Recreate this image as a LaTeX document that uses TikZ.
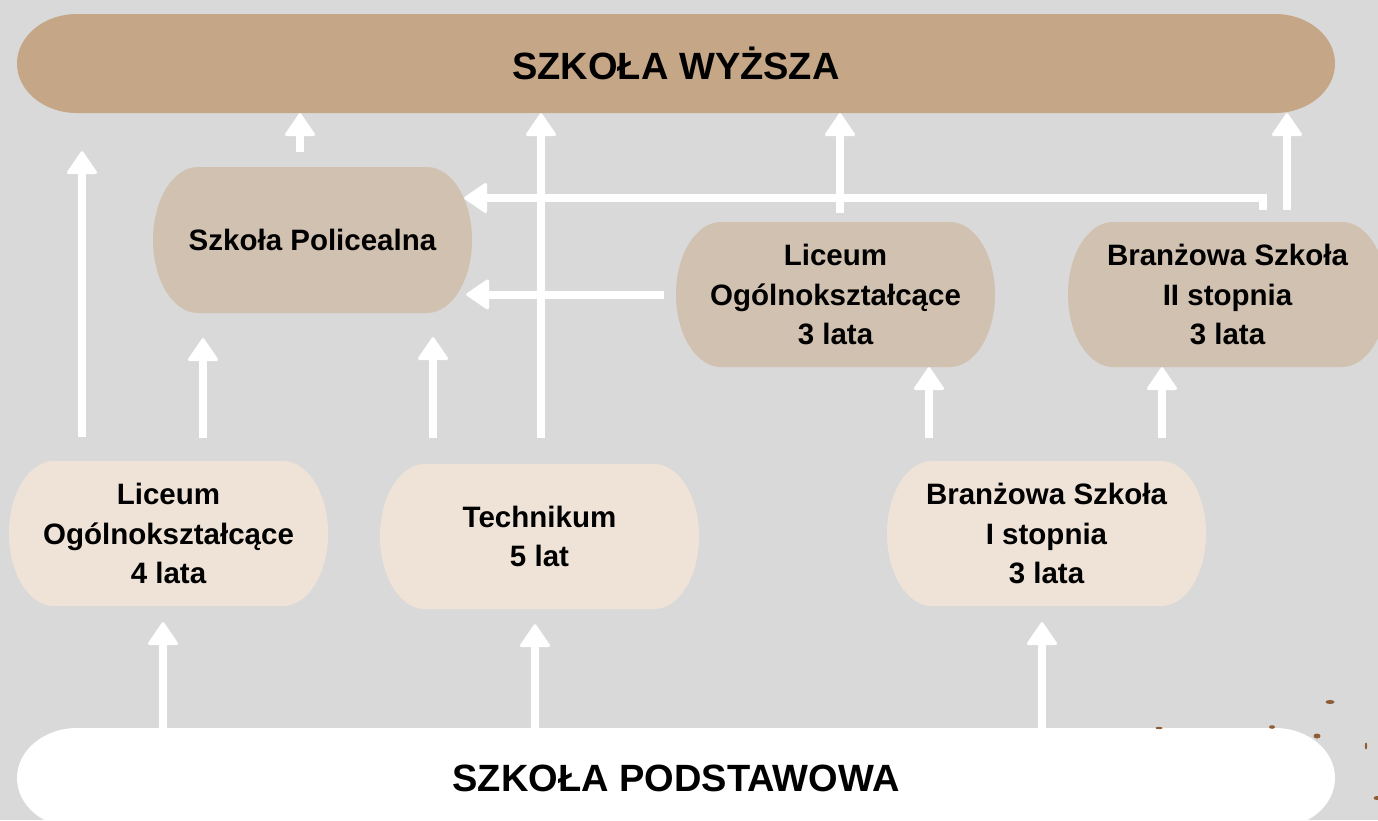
\documentclass[tikz,border=0pt]{standalone}
\usepackage{fontspec}
\setmainfont{Liberation Sans}
\usetikzlibrary{calc, arrows.meta}
\definecolor{bgc}{HTML}{D9D9D9}
\definecolor{topc}{HTML}{C5A686}
\definecolor{midc}{HTML}{D1C1B0}
\definecolor{lowc}{HTML}{EFE3D8}
\definecolor{dotc}{HTML}{8E5D35}
\tikzset{
  pill/.style 2 args={rectangle, inner sep=0pt, align=center,
    path picture={
      \fill[#1] let \p1=(path picture bounding box.north west),
        \p2=(path picture bounding box.south east), \n1={abs(\y2-\y1)/2} in
        ([xshift=#2]path picture bounding box.north west)
        -- ([xshift=-#2]path picture bounding box.north east)
        arc[start angle=90, end angle=-90, x radius=#2, y radius=\n1]
        -- ([xshift=#2]path picture bounding box.south west)
        arc[start angle=270, end angle=90, x radius=#2, y radius=\n1] -- cycle;
    }},
  wide/.style={pill={#1}{60pt}, minimum width=1318pt, minimum height=99pt,
    font=\fontsize{38}{42}\selectfont\bfseries},
  school/.style={pill={#1}{45pt}, minimum width=319pt, minimum height=145pt,
    font=\fontsize{29.5}{39.5}\selectfont\bfseries},
  arr/.style={draw=white, line width=8pt,
    -{Triangle[width=32pt, length=24pt, round, line width=3pt]}}
}

\begin{document}
\begin{tikzpicture}[x=1pt, y=-1pt]
      \fill[bgc] (0,0) rectangle (1378,820);
      \clip (0,0) rectangle (1378,820);
      % levels
      \node [wide=topc] (top) at (676,63.5) {SZKOŁA WYŻSZA};
      \node [wide=white, minimum height=100pt] (pod) at (676,778) {SZKOŁA PODSTAWOWA};
      \node [school=midc, minimum height=146pt] (pol) at (312.5,240) {Szkoła Policealna};
      \node [school=midc] (lic3) at (835.5,294.5) {Liceum\\Ogólnokształcące\\3 lata};
      \node [school=midc] (br2) at (1227.5,294.5) {Branżowa Szkoła\\II stopnia\\3 lata};
      \node [school=lowc] (lic4) at (168.5,533.5) {Liceum\\Ogólnokształcące\\4 lata};
      \node [school=lowc] (tech) at (539.5,536.5) {Technikum\\5 lat};
      \node [school=lowc] (br1) at (1046.5,533.5) {Branżowa Szkoła\\I stopnia\\3 lata};
      % from the primary school
      \draw[arr, shorten >=16pt] (pod.north -| 163,0) -- (lic4.south -| 163,0);
      \draw[arr, shorten >=15pt] (pod.north -| 535,0) -- (tech.south -| 535,0);
      \draw[arr, shorten >=16pt] (pod.north -| 1042,0) -- (br1.south -| 1042,0);
      % from the lower row
      \draw[arr, shorten <=24pt, shorten >=38pt] (lic4.north -| 82,0) -- (top.south -| 82,0);
      \draw[arr, shorten <=23pt, shorten >=25pt] (lic4.north -| 203,0) -- (pol.south -| 203,0);
      \draw[arr, shorten <=26pt, shorten >=24pt] (tech.north -| 433,0) -- (pol.south -| 433,0);
      \draw[arr, shorten <=26pt] (tech.north -| 541,0) -- (top.south -| 541,0);
      \draw[arr, shorten <=23pt] (br1.north -| 929,0) -- (lic3.south -| 929,0);
      \draw[arr, shorten <=23pt] (br1.north -| 1162,0) -- (br2.south -| 1162,0);
      % from the middle row
      \draw[arr, shorten <=15pt] (pol.north -| 300,0) -- (top.south -| 300,0);
      \draw[arr, shorten <=9pt] (lic3.north -| 840,0) -- (top.south -| 840,0);
      \draw[arr, shorten <=12pt] (br2.north -| 1287,0) -- (top.south -| 1287,0);
      \draw[arr, shorten <=12pt, shorten >=-6pt] (lic3.west) -- (lic3.west -| pol.east);
      \draw[arr, shorten <=12pt, shorten >=-8pt] (br2.north -| 1263,0) |- (pol.east |- 0,198);
      % speckles
      \foreach \sx/\sy/\sa/\sb in {1330/702/4.5/2, 1317/736/3.5/2.5, 1366/746/1.2/3.5,
          1377/798/3.5/2, 1159/728/3.5/1.2, 1272/727/3/1.8}
        \fill[dotc] (\sx,\sy) ellipse[x radius=\sa pt, y radius=\sb pt];
\end{tikzpicture}
\end{document}
